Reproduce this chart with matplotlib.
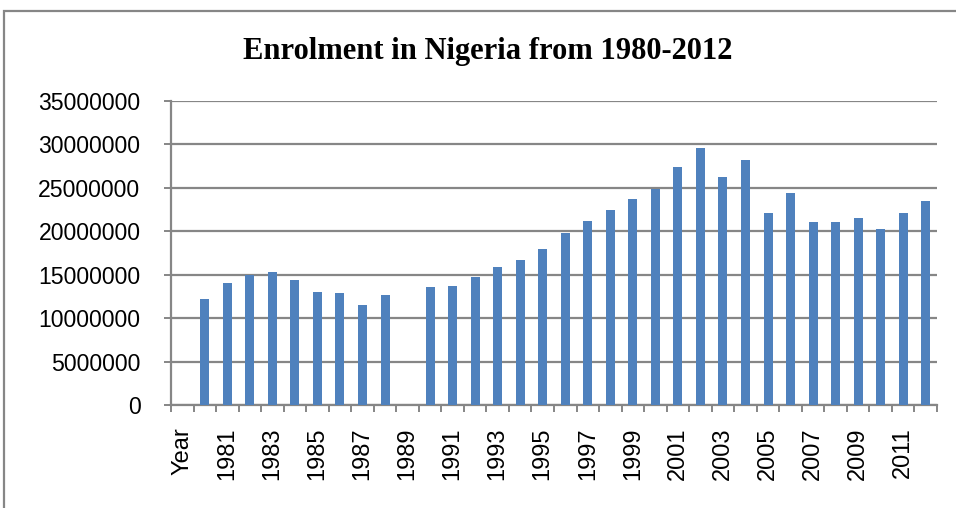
import matplotlib
matplotlib.use("Agg")
import matplotlib.pyplot as plt
import numpy as np
from matplotlib.patches import Rectangle

categories = ["Year"] + [str(y) for y in range(1980, 2013)]
years = list(range(1980, 2013))
enrolment = [12150000, 14000000, 15000000, 15270000, 14380000, 12960000, 12920000,
             11500000, 12690000, np.nan,
             13580000, 13730000, 14730000, 15850000, 16650000, 18000000, 19770000,
             21190000, 22420000, 23690000, 24880000,
             27380000, 29600000, 26300000, 28150000, 22080000, 24420000, 21120000,
             21120000, 21580000, 20300000, 22150000, 23500000]
values = [np.nan] + enrolment
yticks = list(range(0, 35000001, 5000000))

W, H = 956, 508
fig = plt.figure(figsize=(W / 100, H / 100), dpi=100)
fig.patch.set_facecolor("white")

grey = "#868686"
fig.add_artist(Rectangle((4 / W, -0.1), 1.2, (H - 11) / H + 0.1, transform=fig.transFigure,
                         fill=False, edgecolor=grey, linewidth=1.6))

ax = fig.add_axes([171 / W, 1 - 405 / H, (937 - 171) / W, (405 - 101) / H])
x = np.arange(len(categories))
ax.bar(x, values, width=0.4, color="#4F81BD", zorder=3)

ax.set_xlim(-0.5, len(categories) - 0.5)
ax.set_ylim(0, 35000000)
ax.set_yticks(yticks)
ax.set_yticklabels([str(v) for v in yticks], fontsize=16.6, family="Liberation Sans")
ax.yaxis.grid(True, color=grey, linewidth=1.6, zorder=0)
ax.set_axisbelow(True)

ax.set_xticks(x[::2])
ax.set_xticklabels(categories[::2], rotation=90, fontsize=17, family="Liberation Sans",
                   va="top", ha="center")
ax.set_xticks(np.arange(-0.5, len(categories), 1.0), minor=True)
ax.tick_params(axis="x", which="major", length=0, pad=16)
ax.tick_params(axis="x", which="minor", length=5, width=1.4, color=grey, direction="out")
ax.tick_params(axis="y", length=5, width=1.4, color=grey, pad=17)

for s in ["top", "right"]:
    ax.spines[s].set_visible(False)
for s in ["left", "bottom"]:
    ax.spines[s].set_color(grey)
    ax.spines[s].set_linewidth(1.6)

fig.text(488 / W, 1 - 52 / H, "Enrolment in Nigeria from 1980-2012", ha="center", va="center",
         fontsize=22, fontweight="bold", family="Liberation Serif")

fig.savefig("out.png", dpi=100, facecolor="white")
